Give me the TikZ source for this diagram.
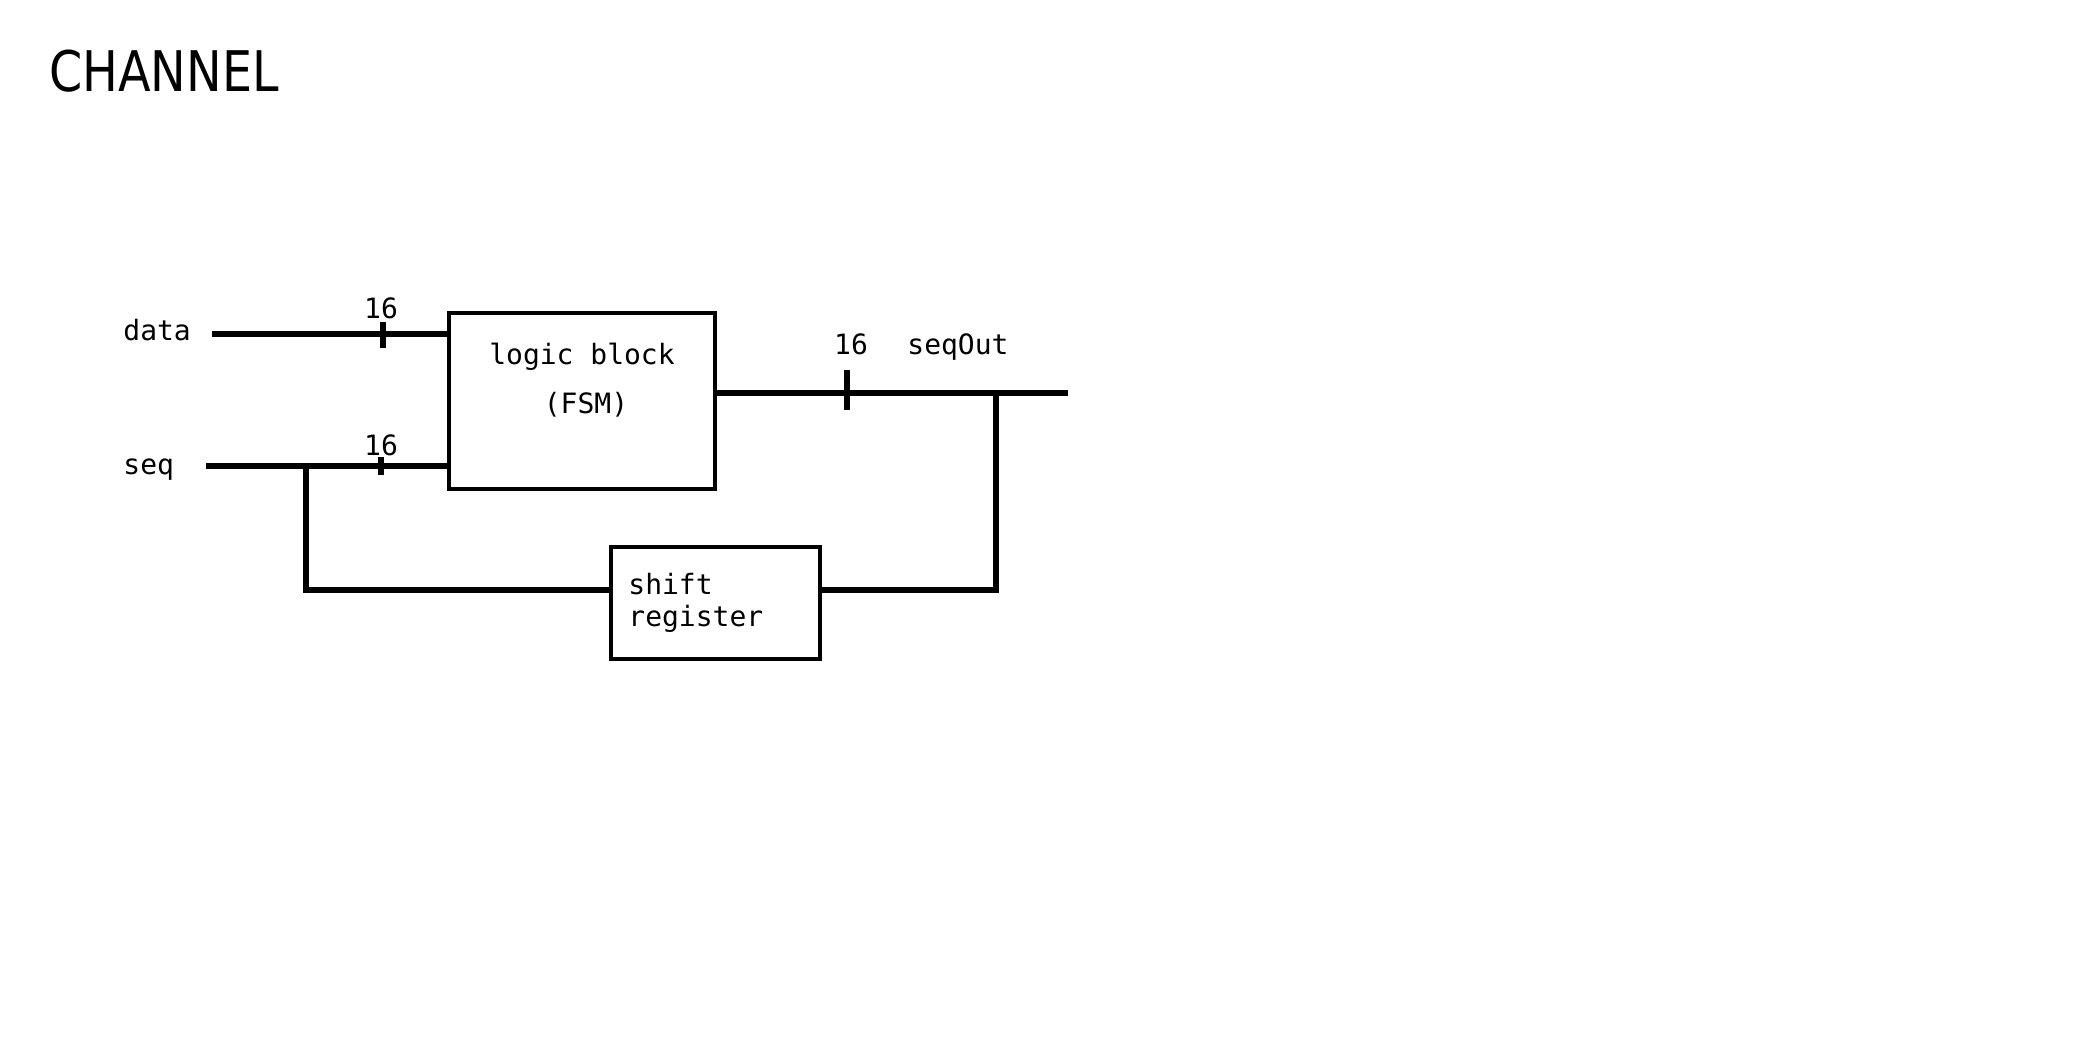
\documentclass[tikz,border=0pt]{standalone}
\usepackage{fontspec}
\newfontfamily\monofont{DejaVu Sans Mono}
\newfontfamily\titlefont[FakeStretch=0.85]{DejaVu Sans}
\begin{document}
\begin{tikzpicture}[x=0.5pt,y=-0.5pt,
  wire/.style={line width=2.8pt},
  tick/.style={line width=2.8pt},
  block/.style={draw,line width=2.2pt,inner sep=0pt},
  lbl/.style={font=\monofont\fontsize{14}{16}\selectfont,inner sep=0pt},
  ttl/.style={font=\titlefont\fontsize{28}{32}\selectfont,inner sep=0pt}]
\useasboundingbox (0,0) rectangle (2088,1044);
\node[ttl,anchor=base west] (title) at (49,91) {CHANNEL};
% blocks
\node[block,minimum width=133pt,minimum height=88pt] (fsm) at (582,401) {};
\node[lbl,anchor=base] (fsmA) at (582,364) {logic block};
\node[lbl,anchor=base] (fsmB) at (586,413) {(FSM)};
\node[block,minimum width=104.5pt,minimum height=56pt] (sr) at (715.5,603) {};
\node[lbl,anchor=base west] (srA) at (628,594) {shift};
\node[lbl,anchor=base west] (srB) at (628,626) {register};
% labels
\node[lbl,anchor=base west] (ldata) at (123,340) {data};
\node[lbl,anchor=base west] (lseq) at (123,474) {seq};
\node[lbl,anchor=base] (w1) at (381,318) {16};
\node[lbl,anchor=base] (w2) at (381,455) {16};
\node[lbl,anchor=base] (w3) at (851,354) {16};
\node[lbl,anchor=base west] (lout) at (907,354) {seqOut};
% coordinates
\coordinate (dataIn) at (212,334);
\coordinate (seqIn) at (206,466);
\coordinate (j1) at (306,466);
\coordinate (j1b) at (306,590);
\coordinate (j2) at (996,393);
\coordinate (j2b) at (996,590);
\coordinate (out) at (1068,393);
\coordinate (t1a) at (383,322); \coordinate (t1b) at (383,348);
\coordinate (t2a) at (381,457); \coordinate (t2b) at (381,475);
\coordinate (t3a) at (847,370); \coordinate (t3b) at (847,410);
% wires
\draw[wire] (dataIn) -- (dataIn -| fsm.west);
\draw[wire] (seqIn) -- (seqIn -| fsm.west);
\draw[wire] (j1) -- (j1b) -- (j1b -| sr.west);
\draw[wire] (out -| fsm.east) -- (out);
\draw[wire] (j2b -| sr.east) -- (j2b) -- (j2);
% ticks
\draw[tick] (t1a) -- (t1b);
\draw[tick] (t2a) -- (t2b);
\draw[tick] (t3a) -- (t3b);
\end{tikzpicture}
\end{document}
